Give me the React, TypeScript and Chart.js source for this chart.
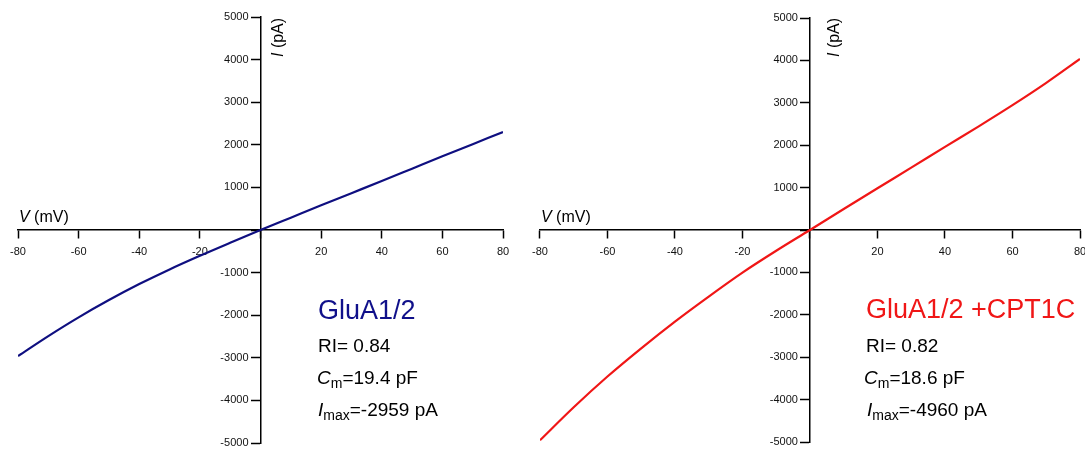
import React, { useEffect, useRef } from "react";
import { Chart, registerables } from "chart.js";

Chart.register(...registerables);

// ---- data ----
const voltages = [-80, -70, -60, -50, -40, -30, -20, -10, 0, 10, 20, 30, 40, 50, 60, 70, 80];
const gluA12Current = [-2959, -2490, -2050, -1645, -1270, -925, -605, -300, 0, 290, 580, 865, 1150, 1440, 1730, 2015, 2300];
const gluA12Cpt1cCurrent = [-4960, -4180, -3455, -2790, -2160, -1570, -1005, -490, 0, 495, 985, 1470, 1960, 2445, 2944, 3470, 4035];
const xTickValues = [-80, -60, -40, -20, 0, 20, 40, 60, 80];
const yTickValues = [-5000, -4000, -3000, -2000, -1000, 0, 1000, 2000, 3000, 4000, 5000];

const FONT = "'Liberation Sans', Arial, Helvetica, sans-serif";
const TICK_FONT_SIZE = 11;

type Run = { text: string; size: number; italic?: boolean; dy?: number };

function drawRuns(ctx: CanvasRenderingContext2D, x: number, y: number, runs: Run[], color: string) {
  let cx = x;
  ctx.fillStyle = color;
  ctx.textBaseline = "alphabetic";
  ctx.textAlign = "left";
  for (const r of runs) {
    ctx.font = `${r.italic ? "italic " : ""}${r.size}px ${FONT}`;
    ctx.fillText(r.text, cx, y + (r.dy || 0));
    cx += ctx.measureText(r.text).width;
  }
}

type PanelText = {
  title: string;
  titleColor: string;
  titlePos: [number, number];
  ri: string;
  riPos: [number, number];
  cm: string;
  cmPos: [number, number];
  imax: string;
  imaxPos: [number, number];
  vPos: [number, number];
  iPos: [number, number];
};

type PanelProps = {
  left: number;
  width: number;
  values: number[];
  color: string;
  padding: { left: number; right: number; top: number; bottom: number };
  text: PanelText;
};

function Panel({ left, width, values, color, padding, text }: PanelProps) {
  const ref = useRef<HTMLCanvasElement | null>(null);
  useEffect(() => {
    if (!ref.current) return;
    const textPlugin = {
      id: "panelText",
      afterDraw(chart: any) {
        const ctx: CanvasRenderingContext2D = chart.ctx;
        const xs = chart.scales.x;
        const ys = chart.scales.y;
        ctx.save();
        // y tick labels, placed left of the tick marks of the centred y axis
        ctx.font = `${TICK_FONT_SIZE}px ${FONT}`;
        ctx.fillStyle = "#111";
        ctx.textAlign = "right";
        ctx.textBaseline = "middle";
        const axisX = xs.getPixelForValue(0);
        for (const t of ys.ticks) {
          if (t.value === 0) continue;
          ctx.fillText(String(t.value), axisX - 12, ys.getPixelForValue(t.value));
        }
        drawRuns(ctx, text.titlePos[0], text.titlePos[1], [{ text: text.title, size: 27 }], text.titleColor);
        drawRuns(ctx, text.riPos[0], text.riPos[1], [{ text: text.ri, size: 19 }], "#000");
        drawRuns(
          ctx,
          text.cmPos[0],
          text.cmPos[1],
          [
            { text: "C", size: 19, italic: true },
            { text: "m", size: 14, dy: 4 },
            { text: text.cm, size: 19 },
          ],
          "#000"
        );
        drawRuns(
          ctx,
          text.imaxPos[0],
          text.imaxPos[1],
          [
            { text: "I", size: 19, italic: true },
            { text: "max", size: 14, dy: 4 },
            { text: text.imax, size: 19 },
          ],
          "#000"
        );
        drawRuns(
          ctx,
          text.vPos[0],
          text.vPos[1],
          [
            { text: "V", size: 16, italic: true },
            { text: " (mV)", size: 16 },
          ],
          "#000"
        );
        ctx.translate(text.iPos[0], text.iPos[1]);
        ctx.rotate(-Math.PI / 2);
        drawRuns(
          ctx,
          0,
          0,
          [
            { text: "I", size: 16, italic: true },
            { text: " (pA)", size: 16 },
          ],
          "#000"
        );
        ctx.restore();
      },
    };

    const chart = new Chart(ref.current, {
      type: "line",
      data: {
        datasets: [
          {
            data: voltages.map((v, i) => ({ x: v, y: values[i] })),
            borderColor: color,
            borderWidth: 2.2,
            pointRadius: 0,
            cubicInterpolationMode: "monotone",
            fill: false,
          },
        ],
      },
      options: {
        animation: false,
        responsive: false,
        maintainAspectRatio: false,
        layout: { padding },
        plugins: { legend: { display: false }, tooltip: { enabled: false }, title: { display: false } },
        scales: {
          x: {
            type: "linear",
            position: { y: 0 } as any,
            min: -80,
            max: 80,
            afterBuildTicks: (scale: any) => {
              scale.ticks = xTickValues.map((v) => ({ value: v }));
            },
            grid: {
              display: true,
              drawOnChartArea: false,
              drawTicks: true,
              tickLength: 8,
              tickWidth: 1.5,
              tickColor: "#000",
            },
            border: { display: true, color: "#000", width: 1.5 },
            ticks: {
              padding: 7,
              color: "#111",
              font: { family: FONT, size: TICK_FONT_SIZE },
              maxRotation: 0,
              autoSkip: false,
              callback: (v: any) => (v === 0 ? "" : String(v)),
            },
          },
          y: {
            type: "linear",
            position: { x: 0 } as any,
            min: -5000,
            max: 5000,
            afterBuildTicks: (scale: any) => {
              scale.ticks = yTickValues.map((v) => ({ value: v }));
            },
            grid: {
              display: true,
              drawOnChartArea: false,
              drawTicks: true,
              tickLength: 9,
              tickWidth: 1.5,
              tickColor: "#000",
            },
            border: { display: true, color: "#000", width: 1.5 },
            ticks: { display: false },
          },
        },
      },
      plugins: [textPlugin],
    });
    return () => chart.destroy();
  }, []);
  return (
    <div style={{ position: "absolute", left, top: 0, width, height: 450 }}>
      <canvas ref={ref} width={width} height={450} style={{ width, height: 450, display: "block" }} />
    </div>
  );
}

export default function App() {
  return (
    <div
      style={{
        position: "absolute",
        left: 0,
        top: 0,
        width: 1085,
        height: 450,
        overflow: "hidden",
        background: "#fff",
      }}
    >
      <Panel
        left={0}
        width={525}
        values={gluA12Current}
        color="#0f0f80"
        padding={{ left: 18, right: 22, top: 17, bottom: 7 }}
        text={{
          title: "GluA1/2",
          titleColor: "#10108a",
          titlePos: [318, 319],
          ri: "RI= 0.84",
          riPos: [318, 352],
          cm: "=19.4 pF",
          cmPos: [317, 384],
          imax: "=-2959 pA",
          imaxPos: [318, 416],
          vPos: [19, 222],
          iPos: [283, 57],
        }}
      />
      <Panel
        left={525}
        width={570}
        values={gluA12Cpt1cCurrent}
        color="#f01616"
        padding={{ left: 10, right: 15, top: 18, bottom: 8 }}
        text={{
          title: "GluA1/2 +CPT1C",
          titleColor: "#f01616",
          titlePos: [341, 318],
          ri: "RI= 0.82",
          riPos: [341, 352],
          cm: "=18.6 pF",
          cmPos: [339, 384],
          imax: "=-4960 pA",
          imaxPos: [342, 416],
          vPos: [16, 222],
          iPos: [314, 57],
        }}
      />
    </div>
  );
}
